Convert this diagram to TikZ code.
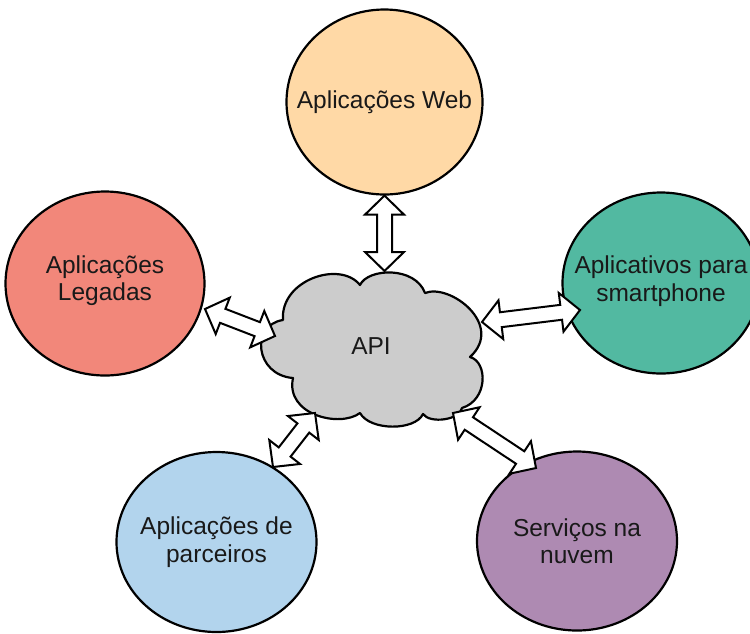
\documentclass[tikz,border=0pt]{standalone}
\usepackage{fontspec}
\setmainfont{Liberation Sans}
\usetikzlibrary{calc,shapes.geometric}
\definecolor{cWeb}{HTML}{FFD9A6}
\definecolor{cLeg}{HTML}{F2877A}
\definecolor{cPhone}{HTML}{52B9A1}
\definecolor{cParc}{HTML}{B2D4ED}
\definecolor{cNuv}{HTML}{AE8AB2}
\definecolor{cCloud}{HTML}{CCCCCC}
\tikzset{
  bubble/.style={ellipse, draw=black, line width=2.2pt, inner sep=0pt},
  lbl/.style={align=center, text=black!90, font=\fontsize{24.5}{27.5}\selectfont},
  blockarrow/.style={draw=black, fill=white, line width=2pt, line join=miter},
}
\newcommand\dblarrow[2]{%
  \draw[blockarrow] (#1)
    -- ($(#1)!19pt!(#2)!19.5pt!90:(#2)$)
    -- ($(#1)!19pt!(#2)!7.5pt!90:(#2)$)
    -- ($(#2)!19pt!(#1)!7.5pt!-90:(#1)$)
    -- ($(#2)!19pt!(#1)!19.5pt!-90:(#1)$)
    -- (#2)
    -- ($(#2)!19pt!(#1)!19.5pt!90:(#1)$)
    -- ($(#2)!19pt!(#1)!7.5pt!90:(#1)$)
    -- ($(#1)!19pt!(#2)!7.5pt!-90:(#2)$)
    -- ($(#1)!19pt!(#2)!19.5pt!-90:(#2)$)
    -- cycle;}
\begin{document}
\begin{tikzpicture}[x=1pt,y=-1pt]
\fill[white] (0,0) rectangle (750,633);
\useasboundingbox (0,0) rectangle (750,633);

% circles
\node[bubble, fill=cWeb,   minimum width=196pt, minimum height=185pt] (web)   at (384.5,102) {};
\node[bubble, fill=cLeg,   minimum width=199pt, minimum height=184pt] (leg)   at (105,283.5) {};
\node[bubble, fill=cPhone, minimum width=197pt, minimum height=181pt] (phone) at (661,283) {};
\node[bubble, fill=cParc,  minimum width=200pt, minimum height=180pt] (parc)  at (216.5,542) {};
\node[bubble, fill=cNuv,   minimum width=200pt, minimum height=179pt] (nuv)   at (577,541) {};

\node[lbl] at (web)   {Aplicações Web};
\node[lbl] at ([yshift=3pt]leg)   {Aplicações\\Legadas};
\node[lbl] at ([yshift=2pt]phone) {Aplicativos para\\smartphone};
\node[lbl] at (parc)  {Aplicações de\\parceiros};
\node[lbl] at (nuv)   {Serviços na\\nuvem};

% cloud
\draw[fill=cCloud, line width=2.2pt, line join=round]
  (360,285) .. controls (368,268) and (415,266) .. (425,293)
            .. controls (450,283) and (505,325) .. (470,357)
            .. controls (488,362) and (488,400) .. (462,408)
            .. controls (460,420) and (430,424) .. (423,414)
            .. controls (415,431) and (370,431) .. (360,413)
            .. controls (340,428) and (285,415) .. (293,378)
            .. controls (255,375) and (250,325) .. (283,320)
            .. controls (280,280) and (340,260) .. (360,285) -- cycle;
\node[lbl] (api) at (371,346) {API};

% arrow end points
\coordinate (cT)  at (384.5,271);
\coordinate (cL)  at (275,336);
\coordinate (cR)  at (482,322);
\coordinate (cBL) at (315,413);
\coordinate (cBR) at (453,413);
\coordinate (legE) at (205,309);
\coordinate (phW)  at (580,310);
\coordinate (parE) at (273,467);
\coordinate (nuvE) at (536,468);

\dblarrow{web.south}{cT}
\dblarrow{legE}{cL}
\dblarrow{cR}{phW}
\dblarrow{parE}{cBL}
\dblarrow{cBR}{nuvE}
\end{tikzpicture}
\end{document}
